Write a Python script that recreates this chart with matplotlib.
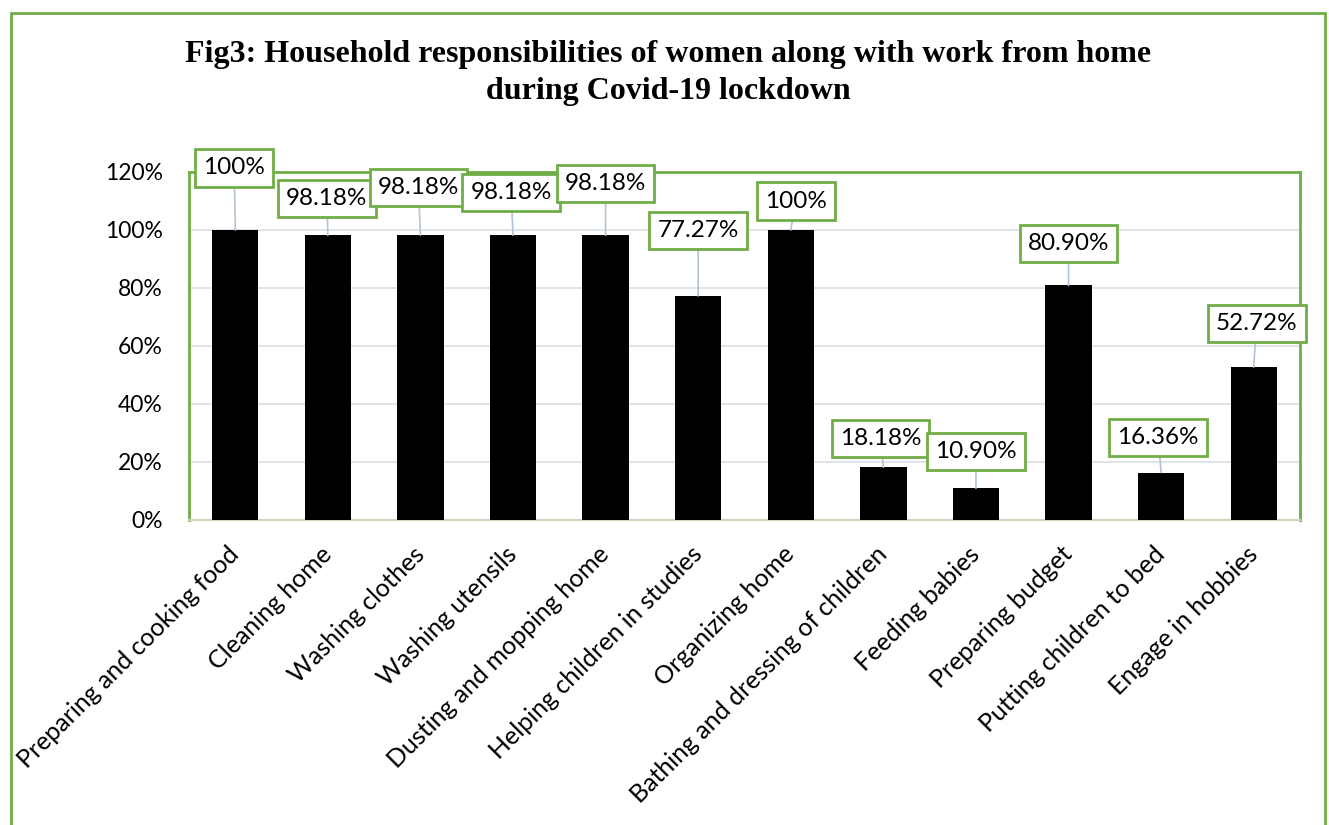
import matplotlib.pyplot as plt
import numpy as np
from matplotlib.patches import Rectangle

# chart data
tasks = ['Preparing and cooking food', 'Cleaning home', 'Washing clothes',
         'Washing utensils', 'Dusting and mopping home', 'Helping children in studies',
         'Organizing home', 'Bathing and dressing of children', 'Feeding babies',
         'Preparing budget', 'Putting children to bed', 'Engage in hobbies']
share = [1.00, 0.9818, 0.9818, 0.9818, 0.9818, 0.7727, 1.00, 0.1818, 0.109, 0.809, 0.1636, 0.5272]
share_labels = ['100%', '98.18%', '98.18%', '98.18%', '98.18%', '77.27%', '100%',
                '18.18%', '10.90%', '80.90%', '16.36%', '52.72%']
yticks = [0, 0.2, 0.4, 0.6, 0.8, 1.0, 1.2]

# where each data label box sits, in pixels from the bar top
label_dx = [-1, -1, -2, -2, 0, 0, 5, -3, 0, 0, -3, 3]
label_dy = [62, 37, 48, 43, 52, 65, 29, 29, 37, 42, 35, 44]

GREEN = '#70AD47'
plt.rcParams['font.family'] = ['Lato', 'DejaVu Sans']

fig = plt.figure(figsize=(13.29, 8.25), dpi=100)
W, H = 1329, 825

# outer frame of the figure
fig.patches.append(Rectangle((11 / W, -0.1), (1325 - 11) / W, 1.1 - 13 / H,
                             transform=fig.transFigure, fill=False,
                             edgecolor=GREEN, linewidth=2, clip_on=False))

fig.text(0.5 * (187 + 1150) / W, 1 - 73 / H,
         'Fig3: Household responsibilities of women along with work from home\nduring Covid-19 lockdown',
         ha='center', va='center', fontsize=23, fontweight='bold',
         family='Liberation Serif', linespacing=1.32)

ax = fig.add_axes([189 / W, 1 - 520 / H, (1300 - 189) / W, (520 - 172) / H])
x = np.arange(len(tasks))
ax.bar(x, share, width=0.5, color='black', zorder=3)
ax.set_xlim(-0.5, len(tasks) - 0.5)
ax.set_ylim(0, 1.2)
ax.set_yticks(yticks)
ax.set_yticklabels([f'{int(round(v * 100))}%' for v in yticks], fontsize=16.5)
ax.set_xticks(x)
ax.set_xticklabels(tasks, rotation=45, ha='right', va='center', rotation_mode='anchor',
                   fontsize=18)
ax.tick_params(axis='y', length=0, pad=19)
ax.tick_params(axis='x', length=0, pad=22)
ax.grid(axis='y', color='#D9DEE6', linewidth=1.2, zorder=0)

for side in ['left', 'top', 'right']:
    ax.spines[side].set_color(GREEN)
    ax.spines[side].set_linewidth(2)
ax.spines['bottom'].set_color('#C5D6BC')
ax.spines['bottom'].set_linewidth(1.5)

for i, (v, lab) in enumerate(zip(share, share_labels)):
    ax.annotate(lab, xy=(i, v), xytext=(label_dx[i], label_dy[i]),
                textcoords='offset pixels', ha='center', va='center', fontsize=17.5,
                bbox=dict(boxstyle='square,pad=0.33', facecolor='white',
                          edgecolor=GREEN, linewidth=2),
                arrowprops=dict(arrowstyle='-', color='#B4C3D3', linewidth=1.2,
                                shrinkA=0, shrinkB=0),
                zorder=5, annotation_clip=False)

fig.savefig('out.png', dpi=100)
